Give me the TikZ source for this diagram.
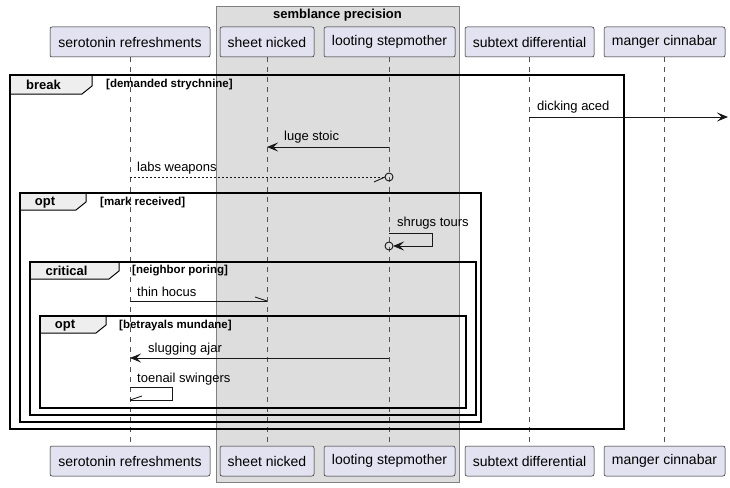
\documentclass[tikz,border=0pt]{standalone}
\usepackage{fontspec}
\setmainfont{Liberation Sans}
\usetikzlibrary{arrows.meta}
\definecolor{partfill}{HTML}{E2E2F0}
\definecolor{lineclr}{HTML}{181818}
\definecolor{boxfill}{HTML}{DDDDDD}
\definecolor{tabfill}{HTML}{EEEEEE}
\begin{document}
\begin{tikzpicture}[x=1pt,y=-1pt,
  part/.style={draw=lineclr, fill=partfill, rounded corners=2pt, line width=0.5pt, minimum height=30pt, inner sep=0pt, font=\fontsize{14}{16}\selectfont},
  life/.style={draw=lineclr!75, dash pattern=on 5pt off 5pt, line width=0.5pt},
  msg/.style={draw=lineclr, line width=0.9pt},
  tip/.style={-{Stealth[length=11pt,width=9pt,inset=4.5pt]}},
  dotted msg/.style={dash pattern=on 2pt off 2pt},
  mlabel/.style={anchor=west, inner sep=0pt, font=\fontsize{13}{15}\selectfont},
  frm/.style={draw=black, line width=1.6pt},
  tabshape/.style={draw=black, line width=1pt, fill=tabfill},
  ftitle/.style={inner sep=0pt, font=\bfseries\fontsize{13}{15}\selectfont},
  fcond/.style={anchor=west, inner sep=0pt, font=\bfseries\fontsize{11.5}{13}\selectfont},
]
\useasboundingbox (0,0) rectangle (730,487);
\fill[white] (0,0) rectangle (730,487);
% box
\draw[fill=boxfill, draw=lineclr!55, line width=0.6pt] (216,6) rectangle (459,482);
\node[ftitle] (boxt) at (337.5,15) {semblance precision};
% participants
\node[part, minimum width=160pt] (p1) at (130,42) {serotonin refreshments};
\node[part, minimum width=94pt] (p2) at (267,42) {sheet nicked};
\node[part, minimum width=131pt] (p3) at (389.5,42) {looting stepmother};
\node[part, minimum width=129pt] (p4) at (529.5,42) {subtext differential};
\node[part, minimum width=121pt] (p5) at (664.5,42) {manger cinnabar};
\node[part, minimum width=160pt] (b1) at (130,461) {serotonin refreshments};
\node[part, minimum width=94pt] (b2) at (267,461) {sheet nicked};
\node[part, minimum width=131pt] (b3) at (389.5,461) {looting stepmother};
\node[part, minimum width=129pt] (b4) at (529.5,461) {subtext differential};
\node[part, minimum width=121pt] (b5) at (664.5,461) {manger cinnabar};
% lifelines
\draw[life] (p1.south) -- (b1.north);
\draw[life] (p2.south) -- (b2.north);
\draw[life] (p3.south) -- (b3.north);
\draw[life] (p4.south) -- (b4.north);
\draw[life] (p5.south) -- (b5.north);
% frames
\draw[tabshape] (10,75) -- (92,75) -- (92,86) -- (82,94) -- (10,94) -- cycle;
\draw[frm] (10,75) rectangle (624,429);
\node[ftitle] (f1t) at (43.5,85) {break};
\node[fcond] (f1c) at (106,85) {[demanded strychnine]};
\draw[tabshape] (20,193) -- (86,193) -- (86,202) -- (76,210) -- (20,210) -- cycle;
\draw[frm] (20,193) rectangle (481,422);
\node[ftitle] (f2t) at (45,203) {opt};
\node[fcond] (f2c) at (100,203) {[mark received]};
\draw[tabshape] (30,262) -- (119,262) -- (119,271) -- (109,279) -- (30,279) -- cycle;
\draw[frm] (30,262) rectangle (476,415);
\node[ftitle] (f3t) at (66.5,271) {critical};
\node[fcond] (f3c) at (132,271) {[neighbor poring]};
\draw[tabshape] (40,316) -- (106,316) -- (106,325) -- (96,333) -- (40,333) -- cycle;
\draw[frm] (40,316) rectangle (466,408);
\node[ftitle] (f4t) at (65,326) {opt};
\node[fcond] (f4c) at (119,326) {[betrayals mundane]};
% message anchors
\coordinate (a1) at (529,117); \coordinate (a1e) at (728,117);
\coordinate (a2) at (389,147); \coordinate (a2e) at (267,147);
\coordinate (a3) at (130,177); \coordinate (a3e) at (385,177);
\coordinate (a4) at (389,233); \coordinate (a4r) at (432,233); \coordinate (a4d) at (432,246); \coordinate (a4e) at (393,246);
\coordinate (a5) at (130,301); \coordinate (a5e) at (267,301);
\coordinate (a6) at (389,358); \coordinate (a6e) at (130,358);
\coordinate (a7) at (130,387); \coordinate (a7r) at (172,387); \coordinate (a7d) at (172,400); \coordinate (a7e) at (130,400);
% messages
\draw[msg, tip] (a1) -- (a1e);
\node[mlabel] (l1) at (537,107) {dicking aced};
\draw[msg, tip] (a2) -- (a2e);
\node[mlabel] (l2) at (284,137) {luge stoic};
\draw[msg, dotted msg] (a3) -- (a3e);
\draw[msg] (a3e) -- ++(-11,5);
\draw[msg, fill=none] (389,177) circle (4pt);
\node[mlabel] (l3) at (137,168) {labs weapons};
\draw[msg, tip] (a4) -- (a4r) -- (a4d) -- (a4e);
\draw[msg] (389,246) circle (4pt);
\node[mlabel] (l4) at (397,223) {shrugs tours};
\draw[msg] (a5) -- (a5e);
\draw[msg] (a5e) -- ++(-12,-4);
\node[mlabel] (l5) at (137,292) {thin hocus};
\draw[msg, tip] (a6) -- (a6e);
\node[mlabel] (l6) at (148,349) {slugging ajar};
\draw[msg] (a7) -- (a7r) -- (a7d) -- (a7e);
\draw[msg] (a7e) -- ++(12,-4);
\node[mlabel] (l7) at (137,379) {toenail swingers};
\end{tikzpicture}
\end{document}
